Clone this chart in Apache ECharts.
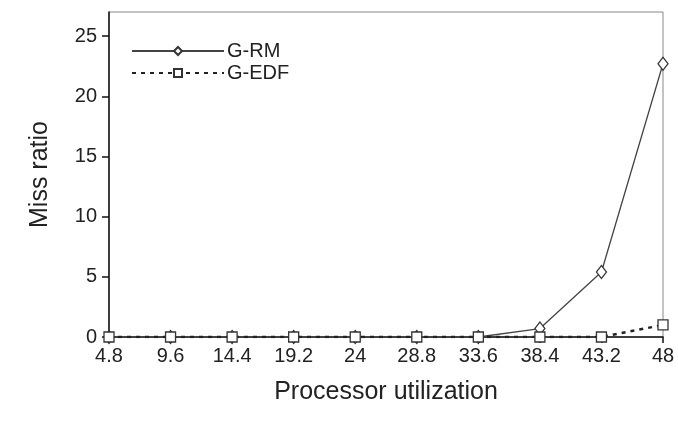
<!DOCTYPE html>
<html>
<head>
<meta charset="utf-8">
<script src="https://cdn.jsdelivr.net/npm/echarts@6/dist/echarts.min.js"></script>
<style>
  html, body { margin: 0; padding: 0; background: #fff; }
  #chart { width: 678px; height: 433px; }
</style>
</head>
<body>
<div id="chart"></div>
<script>
// 数据
const utilization = ['4.8', '9.6', '14.4', '19.2', '24', '28.8', '33.6', '38.4', '43.2', '48'];
const grmMiss = [0, 0, 0, 0, 0, 0, 0, 0.7, 5.4, 22.7];
const gedfMiss = [0, 0, 0, 0, 0, 0, 0, 0, 0, 1.0];
const yTicks = [0, 5, 10, 15, 20, 25];

const chart = echarts.init(document.getElementById('chart'));
const font = 'Liberation Sans, Arial, sans-serif';

chart.setOption({
  animation: false,
  grid: {
    left: 109, right: 15, top: 12, bottom: 96,
    show: true,
    borderColor: '#888',
    borderWidth: 1
  },
  legend: {
    left: 126, top: 36,
    orient: 'vertical',
    itemGap: 2,
    itemWidth: 92,
    itemHeight: 10,
    textStyle: { fontFamily: font, fontSize: 20, color: '#222', padding: [0, 0, 0, -2] },
    data: ['G-RM', 'G-EDF']
  },
  xAxis: {
    type: 'category',
    data: utilization,
    boundaryGap: false,
    name: 'Processor utilization',
    nameLocation: 'middle',
    nameGap: 43,
    nameTextStyle: { fontFamily: font, fontSize: 25, color: '#222' },
    axisLine: { lineStyle: { color: '#111', width: 1.5 } },
    axisTick: { show: true, length: 6, lineStyle: { color: '#111', width: 1.5 } },
    axisLabel: { fontFamily: font, fontSize: 20, color: '#222', margin: 9 },
    splitLine: { show: false }
  },
  yAxis: {
    type: 'value',
    min: 0, max: 27, interval: 5,
    name: 'Miss ratio',
    nameLocation: 'middle',
    nameGap: 56,
    nameTextStyle: { fontFamily: font, fontSize: 25, color: '#222' },
    axisLine: { show: true, lineStyle: { color: '#111', width: 1.5 } },
    axisTick: { show: true, length: 7, customValues: yTicks, lineStyle: { color: '#111', width: 1.5 } },
    axisLabel: { fontFamily: font, fontSize: 20, color: '#222', margin: 12, customValues: yTicks },
    splitLine: { show: false }
  },
  series: [
    {
      name: 'G-RM',
      type: 'line',
      data: grmMiss,
      symbol: 'diamond',
      symbolSize: [10, 13],
      showAllSymbol: true,
      color: '#333',
      lineStyle: { color: '#444', width: 1.3, type: 'solid' },
      itemStyle: { color: '#fff', borderColor: '#333', borderWidth: 1.3 },
      z: 3
    },
    {
      name: 'G-EDF',
      type: 'line',
      data: gedfMiss,
      symbol: 'rect',
      symbolSize: 10,
      showAllSymbol: true,
      color: '#333',
      lineStyle: { color: '#222', width: 2.5, type: [4, 5] },
      itemStyle: { color: '#fff', borderColor: '#333', borderWidth: 1.3 },
      z: 4
    }
  ]
});
</script>
</body>
</html>
